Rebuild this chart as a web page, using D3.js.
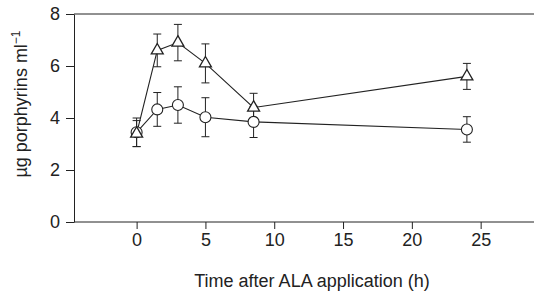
<!DOCTYPE html>
<html>
<head>
<meta charset="utf-8">
<script src="https://cdn.jsdelivr.net/npm/d3@7"></script>
<style>
  body { margin: 0; background: #fff; }
  text { font-family: "Liberation Sans", Arial, sans-serif; fill: #222; }
</style>
</head>
<body>
<div id="chart"></div>
<script>
// time points (h)
var hours = [0, 1.5, 3, 5, 8.5, 24]
// triangle series
var triMean = [3.4, 6.6, 6.9, 6.1, 4.4, 5.6]
var triErr = [0.5, 0.63, 0.7, 0.75, 0.55, 0.5]
// circle series
var circMean = [3.45, 4.33, 4.5, 4.03, 3.85, 3.56]
var circErr = [0.55, 0.65, 0.7, 0.75, 0.6, 0.49]
var xTicks = [0, 5, 10, 15, 20, 25]
var yTicks = [0, 2, 4, 6, 8]

var W = 534, H = 294
var ink = "#222"
var fs = 18

var svg = d3.select("#chart").append("svg")
    .attr("width", W)
    .attr("height", H)

var x = d3.scaleLinear().domain([-4.55, 29]).range([74, 535.7])
var y = d3.scaleLinear().domain([0, 8]).range([222, 14])

// x axis
var xAxis = svg.append("g")
    .attr("transform", "translate(0," + y(0) + ")")
    .call(d3.axisBottom(x).tickValues(xTicks).tickSize(7).tickPadding(4).tickSizeOuter(0))
xAxis.select(".domain").remove()
xAxis.append("line").attr("x1", 74).attr("x2", W).attr("stroke", ink)

// y axis
var yAxis = svg.append("g")
    .attr("transform", "translate(74,0)")
    .call(d3.axisLeft(y).tickValues(yTicks).tickSize(8).tickPadding(6).tickSizeOuter(0))
yAxis.select(".domain").attr("stroke", ink)
svg.selectAll(".tick line").attr("stroke", ink)
svg.selectAll(".tick text").attr("font-size", fs).attr("fill", ink)
  .attr("font-family", "Liberation Sans, Arial, sans-serif")

// top frame line
svg.append("line")
    .attr("x1", 74).attr("x2", W)
    .attr("y1", y(8)).attr("y2", y(8))
    .attr("stroke", ink)

// axis titles
svg.append("text")
    .attr("x", 312).attr("y", 287)
    .attr("text-anchor", "middle")
    .attr("font-size", fs)
    .text("Time after ALA application (h)")

var yt = svg.append("text")
    .attr("transform", "translate(27,104) rotate(-90)")
    .attr("text-anchor", "middle")
    .attr("font-size", fs)
yt.append("tspan").text("\u00b5g porphyrins ml")
yt.append("tspan").attr("font-size", 12).attr("dy", -7).text("\u22121")

function series(means, errs) {
  return hours.map(function(h, i) { return {h: h, v: means[i], e: errs[i]} })
}
var circ = series(circMean, circErr)
var tri = series(triMean, triErr)

var line = d3.line().x(function(d) { return x(d.h) }).y(function(d) { return y(d.v) })

;[circ, tri].forEach(function(s) {
  svg.append("path").datum(s)
      .attr("d", line)
      .attr("fill", "none")
      .attr("stroke", ink)
      .attr("stroke-width", 1.1)

  var eb = svg.append("g").selectAll("g").data(s).enter().append("g")
      .attr("stroke", ink).attr("stroke-width", 1)
  eb.append("line")
      .attr("x1", function(d) { return x(d.h) }).attr("x2", function(d) { return x(d.h) })
      .attr("y1", function(d) { return y(d.v + d.e) }).attr("y2", function(d) { return y(d.v - d.e) })
  eb.append("line")
      .attr("x1", function(d) { return x(d.h) - 4 }).attr("x2", function(d) { return x(d.h) + 4 })
      .attr("y1", function(d) { return y(d.v + d.e) }).attr("y2", function(d) { return y(d.v + d.e) })
  eb.append("line")
      .attr("x1", function(d) { return x(d.h) - 4 }).attr("x2", function(d) { return x(d.h) + 4 })
      .attr("y1", function(d) { return y(d.v - d.e) }).attr("y2", function(d) { return y(d.v - d.e) })
})

// markers
svg.append("g").selectAll("circle").data(circ).enter().append("circle")
    .attr("cx", function(d) { return x(d.h) })
    .attr("cy", function(d) { return y(d.v) })
    .attr("r", 5.5)
    .attr("fill", "#fff")
    .attr("stroke", ink)
    .attr("stroke-width", 1.1)

svg.append("g").selectAll("path").data(tri).enter().append("path")
    .attr("d", d3.symbol().type(d3.symbolTriangle).size(62))
    .attr("transform", function(d) { return "translate(" + x(d.h) + "," + y(d.v) + ")" })
    .attr("fill", "#fff")
    .attr("stroke", ink)
    .attr("stroke-width", 1.3)
</script>
</body>
</html>
